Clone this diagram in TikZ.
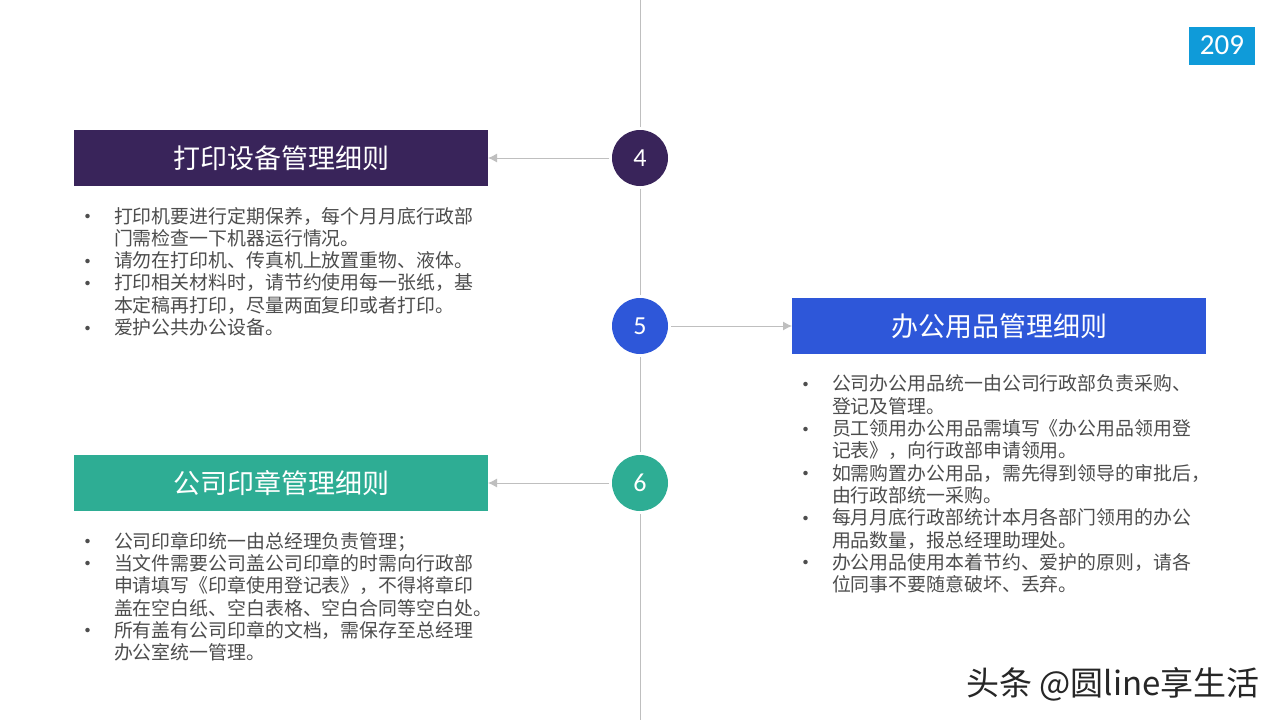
\documentclass[tikz,border=0pt]{standalone}
\usepackage{fontspec}
\setmainfont{Noto Sans CJK SC}
\newfontfamily\numfont{Carlito}
\usetikzlibrary{arrows.meta}
\definecolor{plum}{HTML}{39245A}
\definecolor{royal}{HTML}{2E57D9}
\definecolor{jade}{HTML}{2EAD94}
\definecolor{sky}{HTML}{0F9BD9}
\definecolor{rulegray}{HTML}{BFBFBF}
\definecolor{bodygray}{HTML}{4D4D4D}
\tikzstyle{titlebar} = [rectangle, text=white, minimum width=414pt, minimum height=56pt,
    inner sep=0, outer sep=0, font=\fontsize{27}{30}\selectfont]
\tikzstyle{numdot} = [circle, text=white, minimum size=56pt, inner sep=0, outer sep=3pt,
    font=\numfont\fontsize{26}{28}\selectfont]
\tikzstyle{notes} = [anchor=north west, inner sep=0, outer sep=0, text=bodygray, yshift=-21pt]
\tikzstyle{spine} = [draw=rulegray, line width=1pt]
\tikzstyle{pointer} = [spine, -{Latex[length=9pt,width=9pt]}]
\newenvironment{notelist}{%
    \begin{minipage}{414pt}
    \fontsize{18.9}{22.3}\selectfont
    \setlength\leftmargini{40pt}
    \setlength\labelsep{16pt}
    \renewcommand\labelitemi{\raisebox{-1.5pt}{\fontsize{21}{12}\selectfont\textbullet}}
    \begin{itemize}
    \setlength\itemsep{0em}
    \setlength\parsep{0em}
    \setlength\parskip{0em}
}{%
    \end{itemize}
    \end{minipage}
}

\begin{document}
\begin{tikzpicture}[x=1pt, y=-1pt]
\useasboundingbox (0,0) rectangle (1280,720);
\fill[white] (0,0) rectangle (1280,720);

\coordinate (top) at (640,0);
\coordinate (bottom) at (640,720);
\node[numdot, fill=plum] (dot4) at (640,158) {4};
\node[numdot, fill=royal] (dot5) at (640,326) {5};
\node[numdot, fill=jade] (dot6) at (640,483) {6};
\draw[spine] (top) -- (dot4);
\draw[spine] (dot4) -- (dot5);
\draw[spine] (dot5) -- (dot6);
\draw[spine] (dot6) -- (bottom);

\node[titlebar, fill=plum] (print) at (281,158) {打印设备管理细则};
\node[titlebar, fill=royal] (office) at (999,326) {办公用品管理细则};
\node[titlebar, fill=jade] (seal) at (281,483) {公司印章管理细则};
\draw[pointer] (dot4) -- (print);
\draw[pointer] (dot5) -- (office);
\draw[pointer] (dot6) -- (seal);

\node[notes] (printnotes) at (print.south west) {
    \begin{notelist}
    \item 打印机要进行定期保养，每个月月底行政部\\门需检查一下机器运行情况。
    \item 请勿在打印机、传真机上放置重物、液体。
    \item 打印相关材料时，请节约使用每一张纸，基\\本定稿再打印，尽量两面复印或者打印。
    \item 爱护公共办公设备。
    \end{notelist}
};
\node[notes] (officenotes) at (office.south west) {
    \begin{notelist}
    \item 公司办公用品统一由公司行政部负责采购、\\登记及管理。
    \item 员工领用办公用品需填写《办公用品领用登\\记表》，向行政部申请领用。
    \item 如需购置办公用品，需先得到领导的审批后，\\由行政部统一采购。
    \item 每月月底行政部统计本月各部门领用的办公\\用品数量，报总经理助理处。
    \item 办公用品使用本着节约、爱护的原则，请各\\位同事不要随意破坏、丢弃。
    \end{notelist}
};
\node[notes] (sealnotes) at (seal.south west) {
    \begin{notelist}
    \item 公司印章印统一由总经理负责管理；
    \item 当文件需要公司盖公司印章的时需向行政部\\申请填写《印章使用登记表》，不得将章印\\盖在空白纸、空白表格、空白合同等空白处。
    \item 所有盖有公司印章的文档，需保存至总经理\\办公室统一管理。
    \end{notelist}
};

\node[fill=sky, text=white, minimum width=66pt, minimum height=38pt, inner sep=0,
    font=\numfont\fontsize{29}{30}\selectfont] (page) at (1222,46) {\raisebox{2pt}{209}};
\node[anchor=east, inner sep=0, text=black!85, font=\fontsize{33}{36}\selectfont] (mark) at (1260,684) {头条 @圆line享生活};
\end{tikzpicture}
\end{document}
